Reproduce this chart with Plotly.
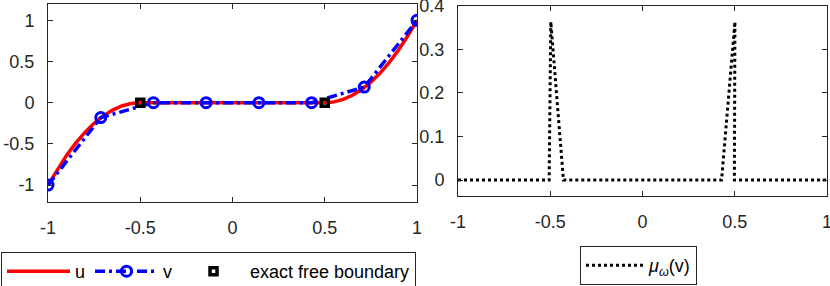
import plotly.graph_objects as go

# ---- data ----
xu = [-1.0, -0.95, -0.9, -0.85, -0.8, -0.75, -0.7, -0.65, -0.6, -0.55, -0.5,
      0.5, 0.55, 0.6, 0.65, 0.7, 0.75, 0.8, 0.85, 0.9, 0.95, 1.0]
yu = [-1.0, -0.81, -0.64, -0.49, -0.36, -0.25, -0.16, -0.09, -0.04, -0.01, 0.0,
      0.0, 0.01, 0.04, 0.09, 0.16, 0.25, 0.36, 0.49, 0.64, 0.81, 1.0]

xv = [-1.0, -0.714, -0.4286, -0.143, 0.143, 0.4286, 0.714, 1.0]
yv = [-1.0, -0.18, 0.0, 0.0, 0.0, 0.0, 0.19, 1.0]

xfb = [-0.5, 0.5]
yfb = [0.0, 0.0]

xmu = [-1.0, -0.506, -0.497, -0.4286, 0.4286, 0.501, 0.498, 1.0]
ymu = [0.0, 0.0, 0.363, 0.0, 0.0, 0.363, 0.0, 0.0]

xticks = [-1, -0.5, 0, 0.5, 1]
xtick_text = ["-1", "-0.5", "0", "0.5", "1"]
yticks_l = [-1, -0.5, 0, 0.5, 1]
ytick_text_l = ["-1", "-0.5", "0", "0.5", "1"]
yticks_r = [0, 0.1, 0.2, 0.3, 0.4]
ytick_text_r = ["0", "0.1", "0.2", "0.3", "0.4"]

W, H = 830, 286
FONT = "Liberation Sans, Arial, Helvetica, sans-serif"
AX = "#262626"

fig = go.Figure()
fig.add_trace(go.Scatter(x=xu, y=yu, mode="lines", name="u",
                         line=dict(color="#FF0000", width=3.5), legend="legend",
                         xaxis="x", yaxis="y"))
fig.add_trace(go.Scatter(x=xv, y=yv, mode="lines+markers", name="v",
                         line=dict(color="#0000FF", width=3.5, dash="10px,4px,3px,4px"),
                         marker=dict(symbol="circle-open", size=10, color="#0000FF",
                                     line=dict(width=3, color="#0000FF")),
                         legend="legend", xaxis="x", yaxis="y"))
fig.add_trace(go.Scatter(x=xfb, y=yfb, mode="markers", name="exact free boundary",
                         marker=dict(symbol="square-open", size=7, color="black",
                                     line=dict(width=3.5, color="black")),
                         legend="legend", xaxis="x", yaxis="y"))
fig.add_trace(go.Scatter(x=xmu, y=ymu, mode="lines",
                         name="<i>μ</i><sub><i>ω</i></sub>(v)",
                         line=dict(color="black", width=3, dash="3px,3px"),
                         legend="legend2", xaxis="x2", yaxis="y2"))

def axstyle(**kw):
    d = dict(showline=True, linecolor=AX, linewidth=1, mirror="ticks",
             ticks="inside", ticklen=5, tickcolor=AX, tickwidth=1,
             showgrid=False, zeroline=False, automargin=False,
             ticklabeloverflow="allow",
             tickfont=dict(family=FONT, size=18, color=AX))
    d.update(kw)
    return d

fig.update_layout(
    template="none",
    width=W, height=H,
    margin=dict(l=0, r=0, t=0, b=0, pad=0, autoexpand=False),
    paper_bgcolor="white", plot_bgcolor="white",
    font=dict(family=FONT, size=18, color="black"),
    xaxis=axstyle(domain=[48 / W, 417 / W], range=[-1, 1], anchor="y",
                  tickvals=xticks, ticktext=xtick_text, ticklabelstandoff=10),
    yaxis=axstyle(domain=[1 - 201.6 / H, 1 - 3.8 / H], range=[-1.2, 1.2], anchor="x",
                  tickvals=yticks_l, ticktext=ytick_text_l, ticklabelstandoff=9),
    xaxis2=axstyle(domain=[458 / W, 827 / W], range=[-1, 1], anchor="y2",
                   tickvals=xticks, ticktext=xtick_text, ticklabelstandoff=10),
    yaxis2=axstyle(domain=[1 - 195.7 / H, 1 - 5.6 / H], range=[-0.036, 0.4001], anchor="x2",
                   tickvals=yticks_r, ticktext=ytick_text_r, ticklabelstandoff=9),
    legend=dict(orientation="h", x=1 / W, y=1 - 252 / H, xanchor="left", yanchor="top",
                bgcolor="white", bordercolor=AX, borderwidth=1, itemwidth=63,
                font=dict(family=FONT, size=18, color="black")),
    legend2=dict(orientation="h", x=580 / W, y=1 - 246 / H, xanchor="left", yanchor="top",
                 bgcolor="white", bordercolor=AX, borderwidth=1, itemwidth=58,
                 font=dict(family=FONT, size=18, color="black")),
    showlegend=True,
)

fig.write_html("out.html", config={"displayModeBar": False},
               post_script="document.body.style.margin='0px';"
                           "document.body.style.overflow='hidden';")
